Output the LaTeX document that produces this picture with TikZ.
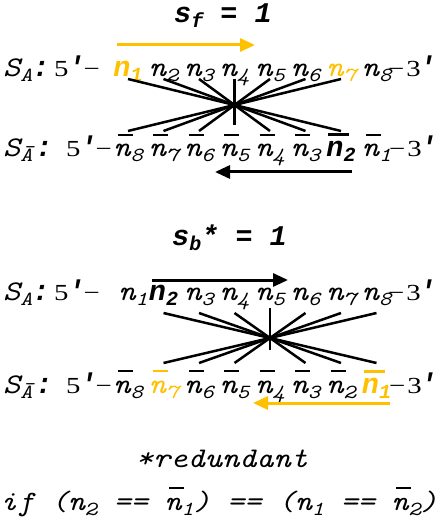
\documentclass[tikz,border=0pt]{standalone}
\usepackage{fontspec}
\usetikzlibrary{arrows.meta}
\newfontfamily\cour{lmmono10-regular}[Extension=.otf, ItalicFont=lmmono10-italic, BoldFont=lmmonolt10-bold, BoldItalicFont=lmmonolt10-boldoblique, FakeStretch=1.15]
\newfontfamily\courb{Liberation Mono}
\newfontfamily\tms{Liberation Serif}[FakeStretch=1.25]
\definecolor{gold}{HTML}{FFC000}
\newcommand\subs[1]{\raisebox{-5pt}{\fontsize{20}{20}\selectfont #1}}
\newcommand\nn[1]{n\subs{#1}}
\newcommand\nbar[1]{\makebox[0pt][l]{\hspace{4.5pt}\rule[21pt]{15pt}{1.6pt}}n\subs{#1}}
\newcommand\nbarB[1]{\makebox[0pt][l]{\hspace{2pt}\rule[20.5pt]{21pt}{3pt}}n\subs{#1}}
\newcommand\fivep{5\kern-1pt{\courb\bfseries\itshape\fontsize{28.5}{30}\selectfont '}\kern-1pt−}
\newcommand\threep{−\kern2pt 3\kern-2pt{\courb\bfseries\itshape\fontsize{28.5}{30}\selectfont '}}
\tikzset{
  mono/.style={font=\cour\itshape\fontsize{28.5}{30}\selectfont, inner sep=0pt},
  monob/.style={font=\courb\bfseries\itshape\fontsize{28.5}{30}\selectfont, inner sep=0pt},
  nitem/.style={mono, anchor=base},
  bitem/.style={monob, anchor=base},
  lbl/.style={mono, anchor=base west},
  ser/.style={font=\tms\fontsize{23}{25}\selectfont, inner sep=0pt, anchor=base west},
  cross/.style={line width=2.5pt},
  arr/.style={line width=3pt, -{Triangle[length=15pt,width=13pt]}},
}
\begin{document}
\begin{tikzpicture}[x=1pt,y=-1pt]
\useasboundingbox (0,0) rectangle (437,518);
% titles
\node[monob, anchor=base west] (title1) at (174,23) {s\subs{f} = 1};
\node[monob, anchor=base west] (title2) at (172,245) {s\subs{b}* = 1};
% ---------- row 1 ----------
\node[lbl] (la1) at (3,77) {S\subs{A}{\courb\bfseries:}};
\node[ser] (fa1) at (54,77) {\fivep};
\node[bitem, text=gold] (t1) at (128,77) {\nn{1}};
\node[nitem] (t2) at (163.5,77) {\nn{2}};
\node[nitem] (t3) at (199,77) {\nn{3}};
\node[nitem] (t4) at (234.5,77) {\nn{4}};
\node[nitem] (t5) at (270,77) {\nn{5}};
\node[nitem] (t6) at (305.5,77) {\nn{6}};
\node[nitem, text=gold] (t7) at (341,77) {\nn{7}};
\node[nitem] (t8) at (376.5,77) {\nn{8}};
\node[ser] (ea1) at (388,77) {\threep};
% ---------- row 2 ----------
\node[lbl] (la2) at (3,157) {S\subs{\=A}\hspace{3pt}{\courb\bfseries:}};
\node[ser] (fa2) at (66,157) {\fivep};
\node[nitem] (b1) at (128,157) {\nbar{8}};
\node[nitem] (b2) at (163.5,157) {\nbar{7}};
\node[nitem] (b3) at (199,157) {\nbar{6}};
\node[nitem] (b4) at (234.5,157) {\nbar{5}};
\node[nitem] (b5) at (270,157) {\nbar{4}};
\node[nitem] (b6) at (305.5,157) {\nbar{3}};
\node[bitem] (b7) at (341,157) {\nbarB{2}};
\node[nitem] (b8) at (376.5,157) {\nbar{1}};
\node[ser] (ea2) at (389,157) {\threep};
% crossing lines 1
\coordinate (u1) at (0,79);
\coordinate (l1) at (0,131);
\coordinate (v1) at (0,125);
\foreach \k in {1,2,3,5,6,7}{
  \pgfmathtruncatemacro\m{8-\k}
  \draw[cross] (t\k |- u1) -- (b\m |- l1);
}
\draw[cross] (t4 |- u1) -- (b4 |- v1);
% arrows 1,2
\coordinate (a1s) at (117,45);
\coordinate (a1e) at (255,45);
\draw[arr, gold] (a1s) -- (a1e);
\coordinate (a2s) at (352,172);
\coordinate (a2e) at (215,172);
\draw[arr] (a2s) -- (a2e);
% ---------- row 3 ----------
\node[lbl] (la3) at (3,300) {S\subs{A}{\courb\bfseries:}};
\node[ser] (fa3) at (54,300) {\fivep};
\node[nitem] (c1) at (133,300) {\nn{1}};
\node[bitem] (c2) at (163.5,300) {\nn{2}};
\node[nitem] (c3) at (199,300) {\nn{3}};
\node[nitem] (c4) at (234.5,300) {\nn{4}};
\node[nitem] (c5) at (270,300) {\nn{5}};
\node[nitem] (c6) at (305.5,300) {\nn{6}};
\node[nitem] (c7) at (341,300) {\nn{7}};
\node[nitem] (c8) at (376.5,300) {\nn{8}};
\node[ser] (ea3) at (388,300) {\threep};
% ---------- row 4 ----------
\node[lbl] (la4) at (3,393) {S\subs{\=A}\hspace{3pt}{\courb\bfseries:}};
\node[ser] (fa4) at (66,393) {\fivep};
\node[nitem] (d1) at (128,393) {\nbar{8}};
\node[nitem, text=gold] (d2) at (163.5,393) {\nbar{7}};
\node[nitem] (d3) at (199,393) {\nbar{6}};
\node[nitem] (d4) at (234.5,393) {\nbar{5}};
\node[nitem] (d5) at (270,393) {\nbar{4}};
\node[nitem] (d6) at (305.5,393) {\nbar{3}};
\node[nitem] (d7) at (341,393) {\nbar{2}};
\node[bitem, text=gold] (d8) at (376.5,393) {\nbarB{1}};
\node[ser] (ea4) at (389,393) {\threep};
% crossing lines 2
\coordinate (u2) at (0,313);
\coordinate (l2) at (0,363);
\coordinate (vt2) at (0,308);
\coordinate (vb2) at (0,350);
\foreach \k in {2,3,4,6,7,8}{
  \pgfmathtruncatemacro\m{10-\k}
  \draw[cross] (c\k |- u2) -- (d\m |- l2);
}
\draw[cross] (c5 |- vt2) -- (d5 |- vb2);
% arrows 3,4
\coordinate (a3s) at (152,280);
\coordinate (a3e) at (288,280);
\draw[arr] (a3s) -- (a3e);
\coordinate (a4s) at (390,403);
\coordinate (a4e) at (253,403);
\draw[arr, gold] (a4s) -- (a4e);
% footnote
\node[mono, anchor=base] (fn1) at (222,467) {*redundant};
\node[mono, anchor=base, font=\cour\itshape\fontsize{28}{30}\selectfont] (fn2) at (219,510) {if (\nn{2} == \nbar{1}) == (\nn{1} == \nbar{2})};
\end{tikzpicture}
\end{document}
